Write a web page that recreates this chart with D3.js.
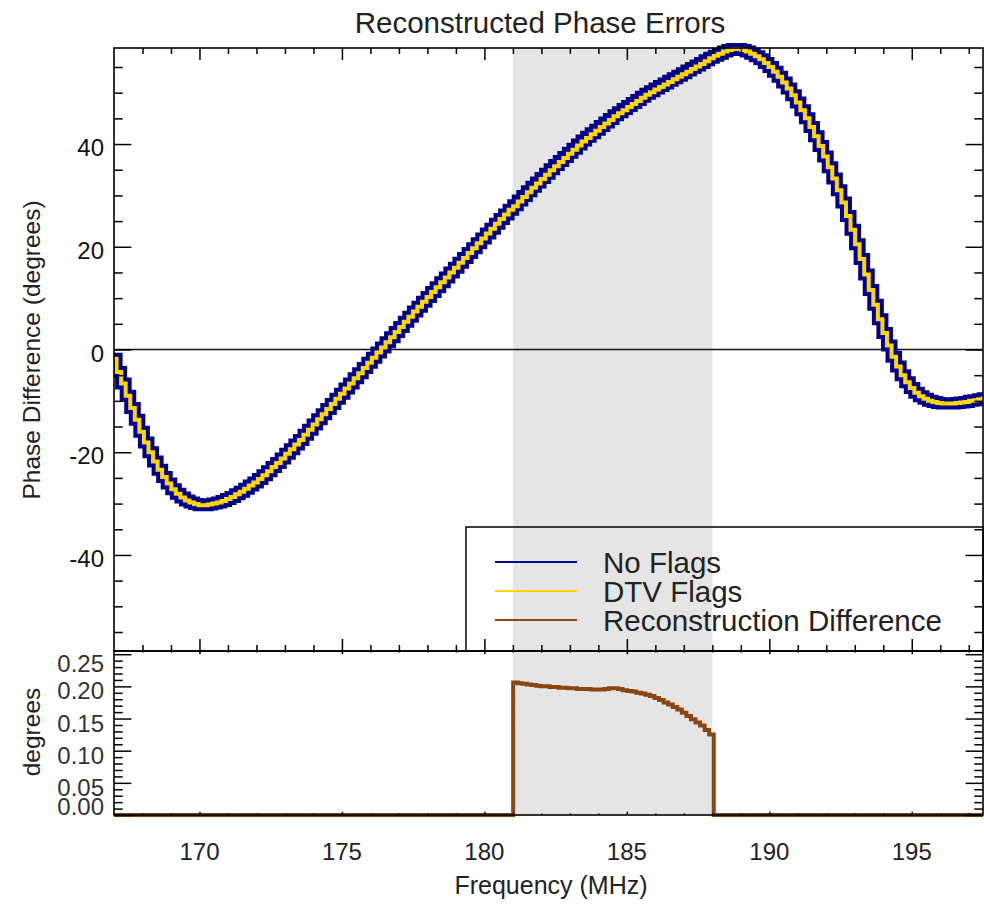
<!DOCTYPE html>
<html><head><meta charset="utf-8">
<script src="https://cdn.jsdelivr.net/npm/d3@7"></script>
<style>
body{margin:0;background:#fff}
svg{display:block}
text{font-family:"Liberation Sans",Arial,Helvetica,sans-serif}
</style>
</head><body>
<svg id="c" width="984" height="905"></svg>
<script>
// ---- data ----
const chanStart = 166.93;   // left edge of first channel (MHz)
const chanWidth = 0.16;     // channel width (MHz)
const noFlags = [
 -1.8,-4.4,-6.6,-9.0,-11.4,-13.7,-16.0,-18.1,-20.0,-21.8,
 -23.4,-24.8,-26.1,-27.2,-28.1,-28.8,-29.4,-29.8,-30.1,-30.3,
 -30.3,-30.2,-30.0,-29.8,-29.5,-29.1,-28.7,-28.2,-27.7,-27.1,
 -26.5,-25.9,-25.2,-24.5,-23.7,-22.9,-22.1,-21.2,-20.3,-19.4,
 -18.5,-17.6,-16.6,-15.6,-14.6,-13.6,-12.6,-11.6,-10.6,-9.6,
 -8.6,-7.6,-6.6,-5.6,-4.6,-3.6,-2.6,-1.6,-0.6,0.4,
 1.4,2.4,3.4,4.4,5.4,6.4,7.4,8.3,9.3,10.2,
 11.2,12.1,13.1,14.0,15.0,15.9,16.9,17.8,18.8,19.7,
 20.7,21.6,22.6,23.5,24.5,25.4,26.3,27.2,28.1,29.0,
 29.9,30.8,31.7,32.5,33.4,34.2,35.1,35.9,36.7,37.5,
 38.3,39.1,39.9,40.7,41.4,42.1,42.8,43.5,44.2,44.9,
 45.6,46.2,46.8,47.4,48.0,48.6,49.2,49.8,50.3,50.8,
 51.3,51.8,52.3,52.8,53.3,53.8,54.3,54.8,55.3,55.8,
 56.3,56.8,57.2,57.6,58.0,58.3,58.5,58.5,58.3,58.0,
 57.6,57.1,56.5,55.8,55.0,54.1,53.1,52.0,50.8,49.5,
 48.1,46.6,45.0,43.3,41.5,39.6,37.6,35.5,33.3,31.0,
 28.6,26.0,23.3,20.5,17.6,14.6,11.6,8.7,5.9,3.2,
 0.8,-1.4,-3.3,-5.0,-6.4,-7.5,-8.4,-9.1,-9.6,-10.0,
 -10.2,-10.4,-10.5,-10.5,-10.5,-10.4,-10.3,-10.2,-10.0,-9.9,-9.7,-9.5
];
const dtvFlags = [
 -1.8,-4.4,-6.6,-9.0,-11.4,-13.7,-16.0,-18.1,-20.0,-21.8,
 -23.4,-24.8,-26.1,-27.2,-28.1,-28.8,-29.4,-29.8,-30.1,-30.3,
 -30.3,-30.2,-30.0,-29.8,-29.5,-29.1,-28.7,-28.2,-27.7,-27.1,
 -26.5,-25.9,-25.2,-24.5,-23.7,-22.9,-22.1,-21.2,-20.3,-19.4,
 -18.5,-17.6,-16.6,-15.6,-14.6,-13.6,-12.6,-11.6,-10.6,-9.6,
 -8.6,-7.6,-6.6,-5.6,-4.6,-3.6,-2.6,-1.6,-0.6,0.4,
 1.4,2.4,3.4,4.4,5.4,6.4,7.4,8.3,9.3,10.2,
 11.2,12.1,13.1,14.0,15.0,15.9,16.9,17.8,18.8,19.7,
 20.7,21.6,22.6,23.5,24.5,25.4,26.3,27.2,27.9,28.8,
 29.7,30.6,31.5,32.3,33.2,34.0,34.9,35.7,36.5,37.3,
 38.1,38.9,39.7,40.5,41.2,41.9,42.6,43.3,44.0,44.7,
 45.4,46.0,46.6,47.2,47.8,48.4,49.0,49.6,50.1,50.6,
 51.1,51.6,52.1,52.6,53.1,53.6,54.1,54.6,55.1,55.6,
 56.1,56.7,57.2,57.6,58.0,58.3,58.5,58.5,58.3,58.0,
 57.6,57.1,56.5,55.8,55.0,54.1,53.1,52.0,50.8,49.5,
 48.1,46.6,45.0,43.3,41.5,39.6,37.6,35.5,33.3,31.0,
 28.6,26.0,23.3,20.5,17.6,14.6,11.6,8.7,5.9,3.2,
 0.8,-1.4,-3.3,-5.0,-6.4,-7.5,-8.4,-9.1,-9.6,-10.0,
 -10.2,-10.4,-10.5,-10.5,-10.5,-10.4,-10.3,-10.2,-10.0,-9.9,-9.7,-9.5
];
const recDiff = [
 0,0,0,0,0,0,0,0,0,0,0,0,0,0,0,0,0,0,0,0,0,0,0,0,0,0,0,0,0,0,
 0,0,0,0,0,0,0,0,0,0,0,0,0,0,0,0,0,0,0,0,0,0,0,0,0,0,0,0,0,0,
 0,0,0,0,0,0,0,0,0,0,0,0,0,0,0,0,0,0,0,0,0,0,0,0,0,0,0,0,
 0.206,0.205,0.204,0.203,0.202,0.201,0.200,0.200,0.199,0.199,0.198,0.198,
 0.197,0.197,0.196,0.196,0.196,0.195,0.195,0.195,0.196,0.197,0.197,0.196,
 0.194,0.193,0.192,0.190,0.189,0.187,0.185,0.182,0.179,0.175,0.172,0.168,
 0.164,0.159,0.154,0.149,0.144,0.139,0.132,0.125,
 0,0,0,0,0,0,0,0,0,0,0,0,0,0,0,0,0,0,0,0,0,0,0,0,0,0,0,0,0,0,
 0,0,0,0,0,0,0,0,0,0,0,0,0,0,0,0,0,0,0,0,0,0,0,0,0,0,0,0,0,0
];
const shadeBand = [181, 188];
const xTicks = [170, 175, 180, 185, 190, 195];
const yTicksTop = [-40, -20, 0, 20, 40];
const yTicksBot = [0.00, 0.05, 0.10, 0.15, 0.20, 0.25];
const yLabelsBot = ["0.00", "0.05", "0.10", "0.15", "0.20", "0.25"];
const seriesNames = ["No Flags", "DTV Flags", "Reconstruction Difference"];
const seriesColors = ["#00008b", "#ffd700", "#8b4513"];

// ---- layout ----
const L = 114, R = 983, T = 48, M = 651, B = 815;
const svg = d3.select("#c");
svg.append("rect").attr("width", 984).attr("height", 905).attr("fill", "#fff");

const x = d3.scaleLinear().domain([167, 197.5]).range([L, R]);
const yTop = d3.scaleLinear().domain([-58.7, 58.7]).range([M, T]);
const yBot = d3.scaleLinear().domain([0, 0.255]).range([B, M]);

const defs = svg.append("defs");
defs.append("clipPath").attr("id", "clipx")
  .append("rect").attr("x", L).attr("y", 0).attr("width", R - L).attr("height", 905);

// shaded DTV band (both panels)
svg.append("rect")
  .attr("x", x(shadeBand[0])).attr("y", T)
  .attr("width", x(shadeBand[1]) - x(shadeBand[0]))
  .attr("height", B - T).attr("fill", "#e5e5e5");

// zero line
svg.append("line").attr("x1", L).attr("x2", R)
  .attr("y1", yTop(0)).attr("y2", yTop(0))
  .attr("stroke", "#111").attr("stroke-width", 1.5);

function stepPts(vals) {
  const pts = vals.map((v, k) => [chanStart + k * chanWidth, v]);
  pts.push([chanStart + vals.length * chanWidth, vals[vals.length - 1]]);
  return pts;
}
const lineTop = d3.line().x(d => x(d[0])).y(d => yTop(d[1])).curve(d3.curveStepAfter);
const lineBot = d3.line().x(d => x(d[0])).y(d => yBot(d[1])).curve(d3.curveStepAfter);

const gc = svg.append("g").attr("clip-path", "url(#clipx)");
gc.append("path").attr("d", lineTop(stepPts(noFlags)))
  .attr("fill", "none").attr("stroke", seriesColors[0]).attr("stroke-width", 12)
  .attr("stroke-linejoin", "miter");
gc.append("path").attr("d", lineTop(stepPts(dtvFlags)))
  .attr("fill", "none").attr("stroke", seriesColors[1]).attr("stroke-width", 4)
  .attr("stroke-linejoin", "miter");
gc.append("path").attr("d", lineBot(stepPts(recDiff)))
  .attr("fill", "none").attr("stroke", seriesColors[2]).attr("stroke-width", 4)
  .attr("stroke-linejoin", "miter");

// ---- axes (ticks only) ----
const xMinor = d3.range(168, 198, 1).filter(v => !xTicks.includes(v));
const yMinorTop = d3.range(-55, 56, 5).filter(v => !yTicksTop.includes(v));
const yMinorBot = d3.range(0.01, 0.255, 0.01).filter(v => Math.abs(Math.round(v * 20) - v * 20) > 1e-6);

function ticks(axisFn, scale, vals, size, tx, ty) {
  const g = svg.append("g").attr("transform", `translate(${tx},${ty})`)
    .call(axisFn(scale).tickValues(vals).tickSize(size).tickSizeOuter(0).tickFormat(""));
  g.select(".domain").remove();
  g.selectAll("line").attr("stroke", "#000").attr("stroke-width", 1.5);
}
// top panel
ticks(d3.axisTop, x, xTicks, -12, 0, T);
ticks(d3.axisTop, x, xMinor, -6, 0, T);
ticks(d3.axisBottom, x, xTicks, -12, 0, M);
ticks(d3.axisBottom, x, xMinor, -6, 0, M);
ticks(d3.axisLeft, yTop, yTicksTop, -17.4, L, 0);
ticks(d3.axisLeft, yTop, yMinorTop, -8.7, L, 0);
ticks(d3.axisRight, yTop, yTicksTop, -17.4, R, 0);
ticks(d3.axisRight, yTop, yMinorTop, -8.7, R, 0);
// bottom panel
ticks(d3.axisTop, x, xTicks, -3.3, 0, M);
ticks(d3.axisTop, x, xMinor, -1.6, 0, M);
ticks(d3.axisBottom, x, xTicks, -3.3, 0, B);
ticks(d3.axisBottom, x, xMinor, -1.6, 0, B);
ticks(d3.axisLeft, yBot, yTicksBot, -17.4, L, 0);
ticks(d3.axisLeft, yBot, yMinorBot, -8.7, L, 0);
ticks(d3.axisRight, yBot, yTicksBot, -17.4, R, 0);
ticks(d3.axisRight, yBot, yMinorBot, -8.7, R, 0);

// frames
svg.append("rect").attr("x", L).attr("y", T).attr("width", R - L).attr("height", M - T)
  .attr("fill", "none").attr("stroke", "#000").attr("stroke-width", 1.6);
svg.append("rect").attr("x", L).attr("y", M).attr("width", R - L).attr("height", B - M)
  .attr("fill", "none").attr("stroke", "#000").attr("stroke-width", 1.6);

// ---- labels ----
svg.selectAll(".ytl").data(yTicksTop).enter().append("text")
  .attr("x", 104).attr("y", d => yTop(d) + 12).attr("text-anchor", "end")
  .attr("font-size", 24).attr("fill", "#111").text(d => d);

svg.selectAll(".ybl").data(yTicksBot).enter().append("text")
  .attr("x", 104).attr("y", d => Math.min(Math.max(yBot(d) + 13, M + 21), B))
  .attr("text-anchor", "end").attr("font-size", 24).attr("fill", "#333")
  .text((d, i) => yLabelsBot[i]);

svg.selectAll(".xl").data(xTicks).enter().append("text")
  .attr("x", d => x(d)).attr("y", 860).attr("text-anchor", "middle")
  .attr("font-size", 24).attr("fill", "#222").text(d => d);

svg.append("text").attr("x", 540).attr("y", 33).attr("text-anchor", "middle")
  .attr("font-size", 29.5).attr("fill", "#222").text("Reconstructed Phase Errors");

svg.append("text").attr("x", 551).attr("y", 894).attr("text-anchor", "middle")
  .attr("font-size", 25).attr("fill", "#222").text("Frequency (MHz)");

svg.append("text").attr("transform", "translate(40,350) rotate(-90)")
  .attr("text-anchor", "middle").attr("font-size", 24.5).attr("fill", "#222")
  .text("Phase Difference (degrees)");

svg.append("text").attr("transform", "translate(40,732) rotate(-90)")
  .attr("text-anchor", "middle").attr("font-size", 24.5).attr("fill", "#222")
  .text("degrees");

// ---- legend ----
const lg = svg.append("g");
lg.append("rect").attr("x", 466).attr("y", 527).attr("width", R - 466).attr("height", M - 527)
  .attr("fill", "none").attr("stroke", "#000").attr("stroke-width", 1.5);
seriesNames.forEach((name, i) => {
  const yy = 562 + i * 29;
  lg.append("line").attr("x1", 495).attr("x2", 577).attr("y1", yy).attr("y2", yy)
    .attr("stroke", seriesColors[i]).attr("stroke-width", 2);
  lg.append("text").attr("x", 603).attr("y", yy + 10.5).attr("font-size", 29.5)
    .attr("fill", "#222").text(name);
});
</script>
</body></html>
